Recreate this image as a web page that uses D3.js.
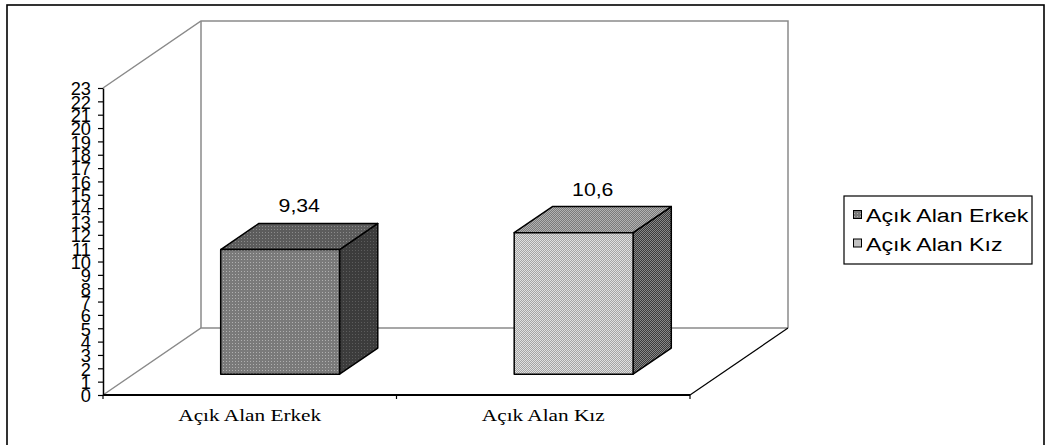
<!DOCTYPE html>
<html>
<head>
<meta charset="utf-8">
<script src="https://cdn.jsdelivr.net/npm/d3@7"></script>
<style>
  html, body { margin: 0; padding: 0; background: #fff; }
  svg { display: block; }
</style>
</head>
<body>
<svg id="chart" width="1045" height="445"></svg>
<script>
// Series data
const categories = ["Açık Alan Erkek", "Açık Alan Kız"];
const values = [9.34, 10.6];
const valueLabels = ["9,34", "10,6"];
const legendLabels = ["Açık Alan Erkek", "Açık Alan Kız"];
const yTicks = d3.range(0, 24);
const yMax = 23;

const svg = d3.select("#chart");

// Plot frame (front plane) and depth vector for the 3D box
const x0 = 103, x1 = 690, yBottom = 395, yTop = 88;
const DX = 98, DY = -67;
const barD0 = 0.31, barD1 = 0.70;   // bar depth range within the box

const x = d3.scaleBand().domain(categories).range([x0, x1]);
const y = d3.scaleLinear().domain([0, yMax]).range([yBottom, yTop]);
const barW = x.bandwidth() * 0.405;

const P = (px, v, d) => [px + d * DX, y(v) + d * DY];

// Fill patterns
const defs = svg.append("defs");
function dotPattern(id, base, dot, size) {
  const p = defs.append("pattern").attr("id", id).attr("patternUnits", "userSpaceOnUse")
    .attr("width", size).attr("height", size);
  p.append("rect").attr("width", size).attr("height", size).attr("fill", base);
  p.append("rect").attr("x", 1).attr("y", 1).attr("width", 1).attr("height", 1).attr("fill", dot);
}
function checkPattern(id, a, b) {
  const p = defs.append("pattern").attr("id", id).attr("patternUnits", "userSpaceOnUse")
    .attr("width", 2).attr("height", 2);
  p.append("rect").attr("width", 2).attr("height", 2).attr("fill", a);
  p.append("rect").attr("width", 1).attr("height", 1).attr("fill", b);
  p.append("rect").attr("x", 1).attr("y", 1).attr("width", 1).attr("height", 1).attr("fill", b);
}
dotPattern("s0front", "#7a7a7a", "#b0b0b0", 3);
dotPattern("s0top", "#5c5c5c", "#8a8a8a", 3);
dotPattern("s0side", "#3c3c3c", "#5c5c5c", 3);
checkPattern("s1front", "#a4a4a4", "#e0e0e0");
checkPattern("s1top", "#7a7a7a", "#b2b2b2");
checkPattern("s1side", "#3a3a3a", "#888888");
const fills = [
  { front: "url(#s0front)", top: "url(#s0top)", side: "url(#s0side)" },
  { front: "url(#s1front)", top: "url(#s1top)", side: "url(#s1side)" }
];

// Outer border
svg.append("rect").attr("x", 7).attr("y", 5).attr("width", 1037).attr("height", 460)
  .attr("fill", "none").attr("stroke", "#000").attr("stroke-width", 1.6);

// Walls and floor
const wall = svg.append("g").attr("fill", "none").attr("stroke", "#8a8a8a").attr("stroke-width", 1.5);
const line = d3.line();
wall.append("path").attr("d", line([P(x0, yMax, 0), P(x0, yMax, 1), P(x1, yMax, 1), P(x1, 0, 1)]));
wall.append("path").attr("d", line([P(x0, 0, 0), P(x0, 0, 1), P(x1, 0, 1)]));
wall.append("path").attr("d", line([P(x0, 0, 1), P(x0, yMax, 1)]));
svg.append("path").attr("d", line([P(x1, 0, 0), P(x1, 0, 1)]))
  .attr("fill", "none").attr("stroke", "#000").attr("stroke-width", 1.2);

// Y axis
const yAxis = svg.append("g").attr("transform", `translate(${x0},0)`)
  .call(d3.axisLeft(y).tickValues(yTicks).tickSize(5).tickSizeOuter(0).tickFormat(d3.format("d")));
yAxis.select(".domain").attr("stroke", "#000").attr("stroke-width", 1.5);
yAxis.selectAll(".tick line").attr("stroke", "#000").attr("stroke-width", 1.2);
yAxis.selectAll(".tick text")
  .attr("x", 0).attr("dy", "0.36em")
  .attr("transform", "translate(-12,0) scale(0.96,1)")
  .attr("font-family", "'Liberation Sans', Arial, sans-serif")
  .attr("font-size", 19).attr("fill", "#000");

// X axis (front floor edge)
svg.append("line").attr("x1", x0).attr("x2", x1).attr("y1", yBottom).attr("y2", yBottom)
  .attr("stroke", "#000").attr("stroke-width", 2);
const bounds = categories.map(c => x(c)).concat([x1]);
svg.selectAll(".xtick").data(bounds).join("line")
  .attr("x1", d => d).attr("x2", d => d).attr("y1", yBottom).attr("y2", yBottom + 4)
  .attr("stroke", "#000").attr("stroke-width", 1.2);
svg.selectAll(".xlabel").data(categories).join("text")
  .attr("transform", d => `translate(${x(d) + x.bandwidth() / 2},421) scale(1.33,1)`)
  .attr("text-anchor", "middle")
  .attr("font-family", "'Liberation Serif', 'Times New Roman', serif")
  .attr("font-size", 16).attr("fill", "#000")
  .text(d => d);

// 3D bars
const bars = svg.selectAll(".bar").data(categories).join("g");
bars.each(function (c, i) {
  const g = d3.select(this);
  const v = values[i];
  const l = x(c) + (x.bandwidth() - barW) / 2, r = l + barW;
  const poly = pts => "M" + pts.map(p => p.join(",")).join("L") + "Z";
  g.append("path").attr("d", poly([P(r, 0, barD0), P(r, 0, barD1), P(r, v, barD1), P(r, v, barD0)]))
    .attr("fill", fills[i].side);
  g.append("path").attr("d", poly([P(l, v, barD0), P(l, v, barD1), P(r, v, barD1), P(r, v, barD0)]))
    .attr("fill", fills[i].top);
  g.append("path").attr("d", poly([P(l, 0, barD0), P(r, 0, barD0), P(r, v, barD0), P(l, v, barD0)]))
    .attr("fill", fills[i].front);
  g.selectAll("path").attr("stroke", "#000").attr("stroke-width", 1.5).attr("stroke-linejoin", "round");
  const [lx] = P((l + r) / 2, v, (barD0 + barD1) / 2);
  const [, topBackY] = P(l, v, barD1);
  g.append("text")
    .attr("transform", `translate(${lx},${topBackY - 11}) scale(1.12,1)`)
    .attr("text-anchor", "middle")
    .attr("font-family", "'Liberation Sans', Arial, sans-serif")
    .attr("font-size", 19).attr("fill", "#000")
    .text(valueLabels[i]);
});

// Legend
const legend = svg.append("g").attr("transform", "translate(844,196)");
legend.append("rect").attr("width", 188).attr("height", 68)
  .attr("fill", "#fff").attr("stroke", "#000").attr("stroke-width", 1.2);
const items = legend.selectAll(".item").data(legendLabels).join("g")
  .attr("transform", (d, i) => `translate(0,${19 + i * 28.5})`);
items.append("rect").attr("x", 9.5).attr("y", -4.5).attr("width", 8).attr("height", 8)
  .attr("fill", (d, i) => fills[i].front).attr("stroke", "#000").attr("stroke-width", 1);
items.append("text")
  .attr("transform", "translate(22,7) scale(1.22,1)")
  .attr("font-family", "'Liberation Sans', Arial, sans-serif")
  .attr("font-size", 19).attr("fill", "#000")
  .text(d => d);
</script>
</body>
</html>
